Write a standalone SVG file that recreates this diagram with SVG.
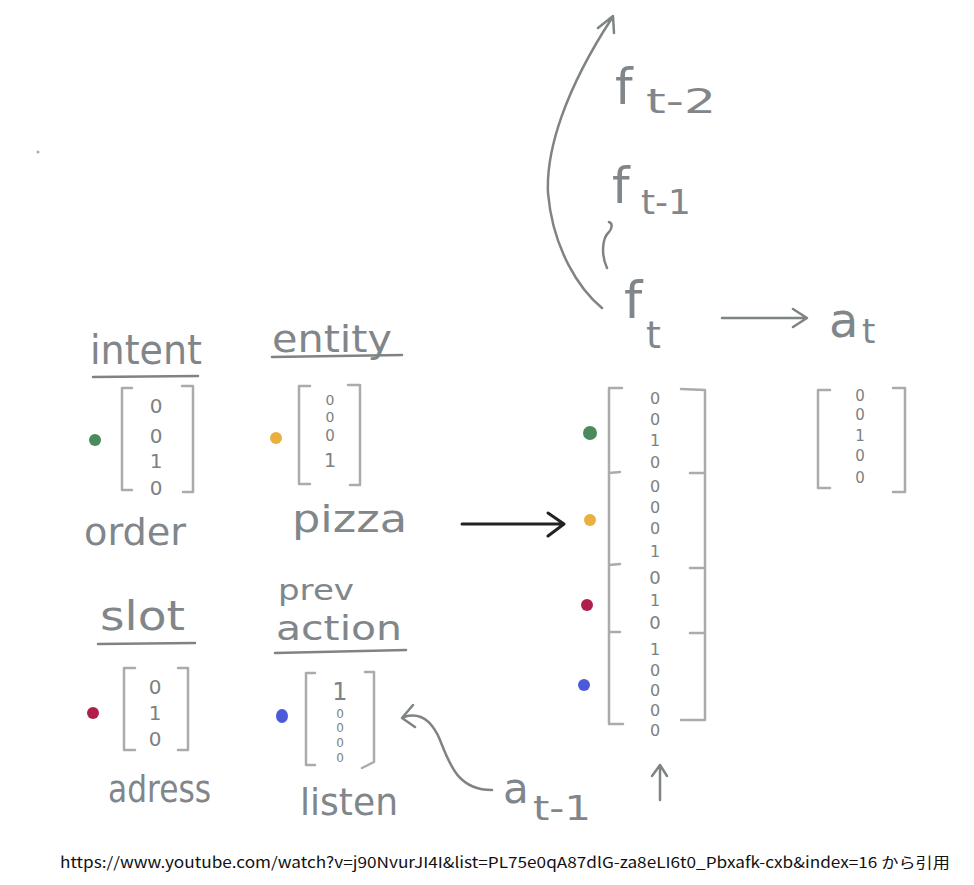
<svg xmlns="http://www.w3.org/2000/svg" width="974" height="885" viewBox="0 0 974 885">
<style>
.h{font-family:"DejaVu Sans","Liberation Sans",sans-serif;fill:#80868a;}
.v{font-family:"DejaVu Sans","Liberation Sans",sans-serif;fill:#7c8280;text-anchor:middle;}
.br{fill:none;stroke:#a9acab;stroke-width:2.5;stroke-linecap:round;stroke-linejoin:round;}
.ln{fill:none;stroke:#7e8482;stroke-width:2.5;stroke-linecap:round;stroke-linejoin:round;}
.bk{fill:none;stroke:#222;stroke-width:3;stroke-linecap:round;stroke-linejoin:round;}
</style>
<rect width="974" height="885" fill="#fff"/>
<circle cx="38" cy="152" r="1.5" fill="#aaa"/>

<g id="intent">
<text class="h" x="90" y="364" font-size="40" textLength="112" lengthAdjust="spacingAndGlyphs">intent</text>
<path class="ln" d="M93 377 L198 376"/>
<path class="br" d="M132 388 L122 388 L122 490 L132 490 M182 386 L193 386 L193 492 L183 492"/>
<text class="v" x="156" y="413" font-size="20">0</text>
<text class="v" x="156" y="443" font-size="20">0</text>
<text class="v" x="156" y="468" font-size="20">1</text>
<text class="v" x="156" y="495" font-size="20">0</text>
<circle cx="95" cy="440" r="6" fill="#4a8a5c"/>
<text class="h" x="84" y="545" font-size="38" textLength="102" lengthAdjust="spacingAndGlyphs">order</text>
</g>

<g id="entity">
<text class="h" x="272" y="352" font-size="38" textLength="120" lengthAdjust="spacingAndGlyphs">entity</text>
<path class="ln" d="M272 357 L402 355"/>
<path class="br" d="M310 386 L299 386 L299 484 L310 484 M348 385 L360 385 L360 485 L350 485"/>
<text class="v" x="330" y="405" font-size="14">0</text>
<text class="v" x="330" y="422" font-size="14">0</text>
<text class="v" x="330" y="441" font-size="15">0</text>
<text class="v" x="330" y="467" font-size="19">1</text>
<circle cx="276" cy="438" r="6" fill="#e9b040"/>
<text class="h" x="292" y="532" font-size="38" textLength="115" lengthAdjust="spacingAndGlyphs">pizza</text>
</g>

<g id="slot">
<text class="h" x="100" y="630" font-size="40" textLength="85" lengthAdjust="spacingAndGlyphs">slot</text>
<path class="ln" d="M98 644 L195 643"/>
<path class="br" d="M135 668 L124 668 L124 750 L135 750 M178 668 L188 668 L188 750 L178 750"/>
<text class="v" x="155" y="694" font-size="20">0</text>
<text class="v" x="155" y="720" font-size="20">1</text>
<text class="v" x="155" y="746" font-size="20">0</text>
<circle cx="93" cy="713" r="6" fill="#b01f4c"/>
<text class="h" x="108" y="802" font-size="38" textLength="103" lengthAdjust="spacingAndGlyphs">adress</text>
</g>

<g id="prev-action">
<text class="h" x="278" y="600" font-size="28" textLength="76" lengthAdjust="spacingAndGlyphs">prev</text>
<text class="h" x="276" y="640" font-size="34" textLength="126" lengthAdjust="spacingAndGlyphs">action</text>
<path class="ln" d="M275 653 L406 650"/>
<path class="br" d="M315 673 L306 673 L306 765 L315 765 M365 672 L374 672 L374 762 L362 768"/>
<text class="v" x="340" y="700" font-size="24">1</text>
<text class="v" x="340" y="718" font-size="12">0</text>
<text class="v" x="340" y="732" font-size="12">0</text>
<text class="v" x="340" y="747" font-size="12">0</text>
<text class="v" x="340" y="762" font-size="12">0</text>
<ellipse cx="282" cy="716" rx="6" ry="7" fill="#4a5ad8"/>
<text class="h" x="300" y="815" font-size="38" textLength="98" lengthAdjust="spacingAndGlyphs">listen</text>
</g>

<g id="a-t-1">
<text class="h" x="503" y="803" font-size="42">a</text>
<text class="h" x="533" y="820" font-size="34" textLength="58" lengthAdjust="spacingAndGlyphs">t-1</text>
</g>

<g id="state-vector">
<path class="br" d="M622 388 L609 388 L609 724 L623 724 M609 473 L620 472 M609 565 L620 564 M609 632 L620 632"/>
<path class="br" d="M681 389 L705 390 L705 720 L681 720 M690 473 L705 473 M690 568 L705 568 M690 633 L705 633"/>
<text class="v" x="655" y="404" font-size="16">0</text>
<text class="v" x="655" y="425" font-size="16">0</text>
<text class="v" x="655" y="446" font-size="16">1</text>
<text class="v" x="655" y="468" font-size="16">0</text>
<text class="v" x="655" y="492" font-size="16">0</text>
<text class="v" x="655" y="513" font-size="16">0</text>
<text class="v" x="655" y="534" font-size="16">0</text>
<text class="v" x="655" y="557" font-size="16">1</text>
<text class="v" x="655" y="584" font-size="18">0</text>
<text class="v" x="655" y="606" font-size="16">1</text>
<text class="v" x="655" y="629" font-size="18">0</text>
<text class="v" x="655" y="655" font-size="16">1</text>
<text class="v" x="655" y="676" font-size="16">0</text>
<text class="v" x="655" y="696" font-size="16">0</text>
<text class="v" x="655" y="716" font-size="16">0</text>
<text class="v" x="655" y="736" font-size="16">0</text>
<circle cx="590" cy="433" r="7" fill="#4a8a5c"/>
<circle cx="590" cy="520" r="6" fill="#e9b040"/>
<circle cx="587" cy="605" r="6" fill="#b01f4c"/>
<circle cx="584" cy="685" r="6" fill="#4a5ad8"/>
</g>

<g id="f-stack">
<text class="h" x="624" y="318" font-size="52">f</text>
<text class="h" x="646" y="348" font-size="38">t</text>
<text class="h" x="612" y="203" font-size="50">f</text>
<text class="h" x="641" y="214" font-size="34" textLength="50" lengthAdjust="spacingAndGlyphs">t-1</text>
<text class="h" x="615" y="104" font-size="50">f</text>
<text class="h" x="646" y="113" font-size="34" textLength="70" lengthAdjust="spacingAndGlyphs">t-2</text>
</g>

<g id="a-t">
<text class="h" x="829" y="337" font-size="48">a</text>
<text class="h" x="862" y="343" font-size="34">t</text>
<path class="br" d="M830 390 L818 390 L818 488 L830 488 M893 388 L905 388 L905 492 L893 492"/>
<text class="v" x="860" y="401" font-size="15">0</text>
<text class="v" x="860" y="420" font-size="15">0</text>
<text class="v" x="860" y="441" font-size="15">1</text>
<text class="v" x="860" y="461" font-size="15">0</text>
<text class="v" x="860" y="483" font-size="15">0</text>
</g>

<g id="connectors">
<path class="bk" d="M462 524 L562 524 M548 513 L564 524 L548 536"/>
<path class="ln" d="M492 790 C458 790 450 765 440 740 C432 721 420 712 404 717 M413 705 L402 718 L415 727"/>
<path class="ln" d="M602 308 C580 290 553 250 548 193 C546 150 565 90 612 18 M598 28 L613 16 L614 33"/>
<path class="ln" d="M607 268 C601 255 602 238 609 232 C613 227 612 223 609 222"/>
<path class="ln" d="M722 318 L806 318 M793 309 L807 318 L793 327"/>
<path class="ln" d="M660 800 L660 767 M652 776 L660 765 L667 776"/>
</g>

<text x="60" y="868" font-family="'Noto Sans CJK JP','DejaVu Sans',sans-serif" font-size="15" fill="#111" textLength="890" lengthAdjust="spacingAndGlyphs">https://www.youtube.com/watch?v=j90NvurJI4I&amp;list=PL75e0qA87dlG-za8eLI6t0_Pbxafk-cxb&amp;index=16 から引用</text>
</svg>
